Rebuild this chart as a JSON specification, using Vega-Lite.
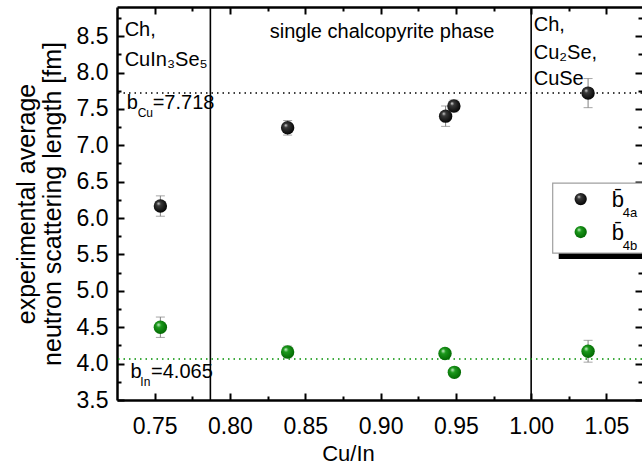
{
  "$schema": "https://vega.github.io/schema/vega-lite/v6.json",
  "width": 525,
  "height": 393,
  "autosize": {"type": "none"},
  "padding": {"left": 117, "top": 7, "right": 0, "bottom": 66},
  "config": {
    "view": {"stroke": null},
    "font": "Liberation Sans",
    "axis": {
      "grid": false,
      "domainColor": "black",
      "domainWidth": 2.5,
      "tickColor": "black",
      "tickWidth": 2,
      "labelColor": "black",
      "labelFont": "Liberation Sans",
      "labelFontSize": 23,
      "titleFont": "Liberation Sans",
      "titleFontSize": 22,
      "titleFontWeight": "normal",
      "titleColor": "black"
    }
  },
  "datasets": {
    "pts": [
      {"cu_in": 0.7538, "b": 6.165, "err": 0.14, "series": "b4a"},
      {"cu_in": 0.8383, "b": 7.24, "err": 0.10, "series": "b4a"},
      {"cu_in": 0.9432, "b": 7.40, "err": 0.14, "series": "b4a"},
      {"cu_in": 0.9487, "b": 7.54, "err": 0.08, "series": "b4a"},
      {"cu_in": 1.0378, "b": 7.717, "err": 0.20, "series": "b4a"},
      {"cu_in": 0.7538, "b": 4.50, "err": 0.14, "series": "b4b"},
      {"cu_in": 0.8383, "b": 4.16, "err": 0.08, "series": "b4b"},
      {"cu_in": 0.9428, "b": 4.14, "err": 0.05, "series": "b4b"},
      {"cu_in": 0.9490, "b": 3.88, "err": 0.06, "series": "b4b"},
      {"cu_in": 1.0378, "b": 4.17, "err": 0.15, "series": "b4b"}
    ],
    "vlines": [{"cu_in": 0.787}, {"cu_in": 1.0}],
    "hlines": [{"b": 7.718, "kind": "Cu"}, {"b": 4.065, "kind": "In"}],
    "notes": [
      {"cu_in": 0.7301, "b": 8.58, "label": "Ch,", "role": "main"},
      {"cu_in": 0.7301, "b": 8.17, "label": "CuIn₃Se₅", "role": "main"},
      {"cu_in": 0.8264, "b": 8.555, "label": "single chalcopyrite phase", "role": "main"},
      {"cu_in": 1.0017, "b": 8.65, "label": "Ch,", "role": "main"},
      {"cu_in": 1.0017, "b": 8.27, "label": "Cu₂Se,", "role": "main"},
      {"cu_in": 1.0017, "b": 7.91, "label": "CuSe", "role": "main"},
      {"cu_in": 0.7314, "b": 7.58, "label": "b", "role": "main"},
      {"cu_in": 0.7487, "b": 7.58, "label": "=7.718", "role": "main"},
      {"cu_in": 0.7340, "b": 3.885, "label": "b", "role": "main"},
      {"cu_in": 0.7476, "b": 3.885, "label": "=4.065", "role": "main"},
      {"cu_in": 0.7387, "b": 7.44, "label": "Cu", "role": "sub"},
      {"cu_in": 0.7405, "b": 3.75, "label": "In", "role": "sub"},
      {"cu_in": 1.0535, "b": 6.247, "label": "b̄", "role": "legend"},
      {"cu_in": 1.0535, "b": 5.794, "label": "b̄", "role": "legend"},
      {"cu_in": 1.0608, "b": 6.069, "label": "4a", "role": "sub"},
      {"cu_in": 1.0608, "b": 5.615, "label": "4b", "role": "sub"}
    ],
    "legendframe": [
      {"part": "shadow", "cu_in": 1.0183, "cu_in2": 1.09, "b": 6.40, "b2": 5.437},
      {"part": "box", "cu_in": 1.0143, "cu_in2": 1.085, "b": 6.481, "b2": 5.519}
    ],
    "legendpts": [
      {"cu_in": 1.0329, "b": 6.261, "series": "b4a"},
      {"cu_in": 1.0329, "b": 5.808, "series": "b4b"}
    ]
  },
  "layer": [
    {
      "data": {"name": "vlines"},
      "mark": {"type": "rule", "color": "black", "strokeWidth": 1.6},
      "encoding": {
        "x": {"field": "cu_in", "type": "quantitative", "scale": {"domain": [0.725, 1.0736], "nice": false, "zero": false}, "axis": null}
      }
    },
    {
      "data": {"name": "hlines"},
      "mark": {"type": "rule", "strokeWidth": 1.5, "strokeDash": [1.5, 4]},
      "encoding": {
        "y": {"field": "b", "type": "quantitative", "scale": {"domain": [3.5, 8.9], "nice": false, "zero": false}, "axis": null},
        "color": {"field": "kind", "type": "nominal", "scale": {"domain": ["Cu", "In"], "range": ["#000000", "#009000"]}, "legend": null}
      }
    },
    {
      "data": {"name": "pts"},
      "mark": {"type": "errorbar", "ticks": {"size": 9, "color": "#808080", "strokeWidth": 1}, "rule": {"color": "#808080", "strokeWidth": 1}},
      "encoding": {
        "x": {"field": "cu_in", "type": "quantitative", "scale": {"domain": [0.725, 1.0736], "nice": false, "zero": false}, "axis": null},
        "y": {"field": "b", "type": "quantitative", "scale": {"domain": [3.5, 8.9], "nice": false, "zero": false}, "axis": null},
        "yError": {"field": "err"}
      }
    },
    {
      "data": {"name": "pts"},
      "transform": [{"filter": "datum.series == 'b4a'"}],
      "mark": {"type": "point", "filled": true, "size": 180, "opacity": 1, "shape": "circle",
        "fill": {"gradient": "radial", "x1": 0.35, "y1": 0.3, "r1": 0, "x2": 0.45, "y2": 0.45, "r2": 0.6,
          "stops": [{"offset": 0, "color": "#e0e0e0"}, {"offset": 0.25, "color": "#3a3a3a"}, {"offset": 1, "color": "#000000"}]}},
      "encoding": {
        "x": {"field": "cu_in", "type": "quantitative", "scale": {"domain": [0.725, 1.0736], "nice": false, "zero": false},
          "axis": {"orient": "bottom", "values": [0.75, 0.775, 0.8, 0.825, 0.85, 0.875, 0.9, 0.925, 0.95, 0.975, 1.0, 1.025, 1.05],
            "tickSize": {"condition": {"test": "round(datum.value*40)%2==0", "value": -7}, "value": -4},
            "labelExpr": "round(datum.value*40)%2==0 ? format(datum.value,'.2f') : ''",
            "labelPadding": 22, "title": "Cu/In", "titlePadding": 5, "titleX": 231}},
        "y": {"field": "b", "type": "quantitative", "scale": {"domain": [3.5, 8.9], "nice": false, "zero": false},
          "axis": {"orient": "left", "values": [3.5, 3.75, 4.0, 4.25, 4.5, 4.75, 5.0, 5.25, 5.5, 5.75, 6.0, 6.25, 6.5, 6.75, 7.0, 7.25, 7.5, 7.75, 8.0, 8.25, 8.5, 8.75],
            "tickSize": {"condition": {"test": "round(datum.value*4)%2==0", "value": -7}, "value": -4},
            "labelExpr": "round(datum.value*4)%2==0 ? format(datum.value,'.1f') : ''",
            "labelPadding": 16, "title": ["experimental average", "neutron scattering length [fm]"], "titleFontSize": 25, "titleLineHeight": 26, "titlePadding": 11}}
      }
    },
    {
      "data": {"name": "pts"},
      "transform": [{"filter": "datum.series == 'b4b'"}],
      "mark": {"type": "point", "filled": true, "size": 180, "opacity": 1, "shape": "circle",
        "fill": {"gradient": "radial", "x1": 0.35, "y1": 0.3, "r1": 0, "x2": 0.45, "y2": 0.45, "r2": 0.6,
          "stops": [{"offset": 0, "color": "#d8f5d8"}, {"offset": 0.3, "color": "#1c9a1c"}, {"offset": 1, "color": "#006400"}]}},
      "encoding": {
        "x": {"field": "cu_in", "type": "quantitative", "scale": {"domain": [0.725, 1.0736], "nice": false, "zero": false},
          "axis": {"orient": "top", "values": [0.75, 0.775, 0.8, 0.825, 0.85, 0.875, 0.9, 0.925, 0.95, 0.975, 1.0, 1.025, 1.05],
            "tickSize": {"condition": {"test": "round(datum.value*40)%2==0", "value": -7}, "value": -4},
            "labels": false, "title": null}},
        "y": {"field": "b", "type": "quantitative", "scale": {"domain": [3.5, 8.9], "nice": false, "zero": false},
          "axis": {"orient": "right", "domain": false, "values": [3.5, 3.75, 4.0, 4.25, 4.5, 4.75, 5.0, 5.25, 5.5, 5.75, 6.0, 6.25, 6.5, 6.75, 7.0, 7.25, 7.5, 7.75, 8.0, 8.25, 8.5, 8.75],
            "tickSize": {"condition": {"test": "round(datum.value*4)%2==0", "value": -7}, "value": -4},
            "labels": false, "title": null}}
      }
    },
    {
      "data": {"name": "notes"},
      "transform": [{"filter": "datum.role == 'main'"}],
      "mark": {"type": "text", "align": "left", "baseline": "middle", "fontSize": 20, "font": "Liberation Sans", "color": "black"},
      "encoding": {
        "x": {"field": "cu_in", "type": "quantitative", "scale": {"domain": [0.725, 1.0736], "nice": false, "zero": false}, "axis": null},
        "y": {"field": "b", "type": "quantitative", "scale": {"domain": [3.5, 8.9], "nice": false, "zero": false}, "axis": null},
        "text": {"field": "label"}
      }
    },
    {
      "data": {"name": "notes"},
      "transform": [{"filter": "datum.role == 'sub' && datum.cu_in < 1.0"}],
      "mark": {"type": "text", "align": "left", "baseline": "middle", "fontSize": 12, "font": "Liberation Sans", "color": "black"},
      "encoding": {
        "x": {"field": "cu_in", "type": "quantitative", "scale": {"domain": [0.725, 1.0736], "nice": false, "zero": false}, "axis": null},
        "y": {"field": "b", "type": "quantitative", "scale": {"domain": [3.5, 8.9], "nice": false, "zero": false}, "axis": null},
        "text": {"field": "label"}
      }
    },
    {
      "data": {"name": "legendframe"},
      "transform": [{"filter": "datum.part == 'shadow'"}],
      "mark": {"type": "rect", "color": "black"},
      "encoding": {
        "x": {"field": "cu_in", "type": "quantitative", "scale": {"domain": [0.725, 1.0736], "nice": false, "zero": false}, "axis": null},
        "x2": {"field": "cu_in2"},
        "y": {"field": "b", "type": "quantitative", "scale": {"domain": [3.5, 8.9], "nice": false, "zero": false}, "axis": null},
        "y2": {"field": "b2"}
      }
    },
    {
      "data": {"name": "legendframe"},
      "transform": [{"filter": "datum.part == 'box'"}],
      "mark": {"type": "rect", "fill": "white", "stroke": "#a0a0a0", "strokeWidth": 1.2},
      "encoding": {
        "x": {"field": "cu_in", "type": "quantitative", "scale": {"domain": [0.725, 1.0736], "nice": false, "zero": false}, "axis": null},
        "x2": {"field": "cu_in2"},
        "y": {"field": "b", "type": "quantitative", "scale": {"domain": [3.5, 8.9], "nice": false, "zero": false}, "axis": null},
        "y2": {"field": "b2"}
      }
    },
    {
      "data": {"name": "legendpts"},
      "transform": [{"filter": "datum.series == 'b4a'"}],
      "mark": {"type": "point", "filled": true, "size": 150, "opacity": 1, "shape": "circle",
        "fill": {"gradient": "radial", "x1": 0.35, "y1": 0.3, "r1": 0, "x2": 0.45, "y2": 0.45, "r2": 0.6,
          "stops": [{"offset": 0, "color": "#e0e0e0"}, {"offset": 0.25, "color": "#3a3a3a"}, {"offset": 1, "color": "#000000"}]}},
      "encoding": {
        "x": {"field": "cu_in", "type": "quantitative", "scale": {"domain": [0.725, 1.0736], "nice": false, "zero": false}, "axis": null},
        "y": {"field": "b", "type": "quantitative", "scale": {"domain": [3.5, 8.9], "nice": false, "zero": false}, "axis": null}
      }
    },
    {
      "data": {"name": "legendpts"},
      "transform": [{"filter": "datum.series == 'b4b'"}],
      "mark": {"type": "point", "filled": true, "size": 150, "opacity": 1, "shape": "circle",
        "fill": {"gradient": "radial", "x1": 0.35, "y1": 0.3, "r1": 0, "x2": 0.45, "y2": 0.45, "r2": 0.6,
          "stops": [{"offset": 0, "color": "#d8f5d8"}, {"offset": 0.3, "color": "#1c9a1c"}, {"offset": 1, "color": "#006400"}]}},
      "encoding": {
        "x": {"field": "cu_in", "type": "quantitative", "scale": {"domain": [0.725, 1.0736], "nice": false, "zero": false}, "axis": null},
        "y": {"field": "b", "type": "quantitative", "scale": {"domain": [3.5, 8.9], "nice": false, "zero": false}, "axis": null}
      }
    },
    {
      "data": {"name": "notes"},
      "transform": [{"filter": "datum.role == 'legend'"}],
      "mark": {"type": "text", "align": "left", "baseline": "middle", "fontSize": 22, "font": "Liberation Sans", "color": "black"},
      "encoding": {
        "x": {"field": "cu_in", "type": "quantitative", "scale": {"domain": [0.725, 1.0736], "nice": false, "zero": false}, "axis": null},
        "y": {"field": "b", "type": "quantitative", "scale": {"domain": [3.5, 8.9], "nice": false, "zero": false}, "axis": null},
        "text": {"field": "label"}
      }
    },
    {
      "data": {"name": "notes"},
      "transform": [{"filter": "datum.role == 'sub' && datum.cu_in > 1.0"}],
      "mark": {"type": "text", "align": "left", "baseline": "middle", "fontSize": 13, "font": "Liberation Sans", "color": "black"},
      "encoding": {
        "x": {"field": "cu_in", "type": "quantitative", "scale": {"domain": [0.725, 1.0736], "nice": false, "zero": false}, "axis": null},
        "y": {"field": "b", "type": "quantitative", "scale": {"domain": [3.5, 8.9], "nice": false, "zero": false}, "axis": null},
        "text": {"field": "label"}
      }
    }
  ],
  "resolve": {"axis": {"x": "independent", "y": "independent"}}
}
